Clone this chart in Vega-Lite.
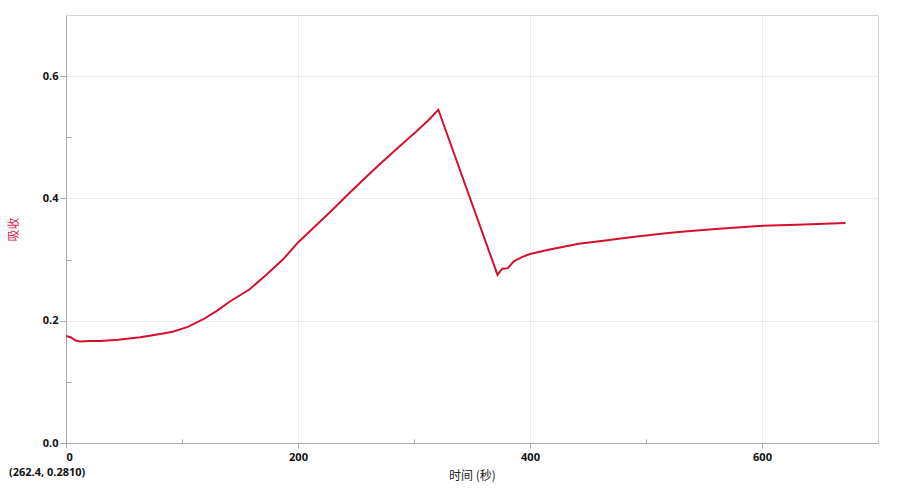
{
  "$schema": "https://vega.github.io/schema/vega-lite/v6.json",
  "autosize": "none",
  "width": 812,
  "height": 428,
  "padding": {"left": 66, "top": 15, "right": 24, "bottom": 48},
  "background": "white",
  "config": {
    "view": {"stroke": "#d4d4d4", "strokeWidth": 1},
    "font": "Open Sans"
  },
  "title": {
    "text": "(262.4, 0.2810)",
    "orient": "bottom",
    "anchor": "start",
    "frame": "group",
    "dx": -57,
    "offset": -14,
    "font": "Open Sans",
    "fontSize": 11,
    "fontWeight": "bold",
    "color": "#111111"
  },
  "data": {
    "values": [
      {"t": 0, "a": 0.175},
      {"t": 4, "a": 0.173},
      {"t": 8, "a": 0.168},
      {"t": 12, "a": 0.166},
      {"t": 20, "a": 0.167},
      {"t": 30, "a": 0.167},
      {"t": 45, "a": 0.169},
      {"t": 64, "a": 0.173},
      {"t": 80, "a": 0.178},
      {"t": 92, "a": 0.182},
      {"t": 105, "a": 0.190},
      {"t": 118, "a": 0.202},
      {"t": 130, "a": 0.216},
      {"t": 141, "a": 0.231},
      {"t": 158, "a": 0.251},
      {"t": 172, "a": 0.274},
      {"t": 187, "a": 0.300},
      {"t": 200, "a": 0.328},
      {"t": 215, "a": 0.355},
      {"t": 230, "a": 0.382},
      {"t": 245, "a": 0.410},
      {"t": 256, "a": 0.430},
      {"t": 270, "a": 0.455},
      {"t": 285, "a": 0.481},
      {"t": 300, "a": 0.506},
      {"t": 312, "a": 0.527},
      {"t": 321, "a": 0.545},
      {"t": 372, "a": 0.275},
      {"t": 376, "a": 0.285},
      {"t": 381, "a": 0.286},
      {"t": 386, "a": 0.297},
      {"t": 393, "a": 0.304},
      {"t": 400, "a": 0.309},
      {"t": 416, "a": 0.316},
      {"t": 442, "a": 0.326},
      {"t": 465, "a": 0.331},
      {"t": 485, "a": 0.336},
      {"t": 511, "a": 0.342},
      {"t": 528, "a": 0.345},
      {"t": 560, "a": 0.350},
      {"t": 597, "a": 0.355},
      {"t": 630, "a": 0.357},
      {"t": 672, "a": 0.360}
    ]
  },
  "mark": {"type": "line", "color": "#d4112d", "strokeWidth": 2, "interpolate": "linear"},
  "encoding": {
    "x": {
      "field": "t", "type": "quantitative",
      "scale": {"domain": [0, 700], "nice": false},
      "axis": {
        "values": [0, 100, 200, 300, 400, 500, 600],
        "labelExpr": "datum.value % 200 === 0 ? datum.label : ''",
        "format": "d",
        "grid": true,
        "gridColor": "#ececec",
        "gridOpacity": {"expr": "datum.value % 200 === 0 ? 1 : 0"},
        "domainColor": "#aaaaaa", "tickColor": "#aaaaaa",
        "tickSize": {"expr": "datum.value % 200 === 0 ? 5 : -4"},
        "labelPadding": 3,
        "labelFont": "Open Sans", "labelFontWeight": "bold", "labelFontSize": 11, "labelColor": "#111111",
        "title": "时间 (秒)",
        "titleFont": "Noto Sans CJK SC", "titleFontWeight": "normal", "titleFontSize": 12, "titleColor": "#222222",
        "titlePadding": 8
      }
    },
    "y": {
      "field": "a", "type": "quantitative",
      "scale": {"domain": [0, 0.7], "nice": false, "zero": false},
      "axis": {
        "values": [0, 0.1, 0.2, 0.3, 0.4, 0.5, 0.6],
        "labelExpr": "round(datum.value * 10) % 2 === 0 ? datum.label : ''",
        "format": ".1f",
        "grid": true,
        "gridColor": "#ececec",
        "gridOpacity": {"expr": "round(datum.value * 10) % 2 === 0 ? 1 : 0"},
        "domainColor": "#aaaaaa", "tickColor": "#aaaaaa",
        "tickSize": {"expr": "round(datum.value * 10) % 2 === 0 ? 6 : -5"},
        "labelPadding": 2,
        "labelFont": "Open Sans", "labelFontWeight": "bold", "labelFontSize": 11, "labelColor": "#111111",
        "title": "吸收",
        "titleFont": "Noto Sans CJK SC", "titleFontWeight": "normal", "titleFontSize": 12, "titleColor": "#d41a50",
        "titlePadding": 22
      }
    }
  }
}
